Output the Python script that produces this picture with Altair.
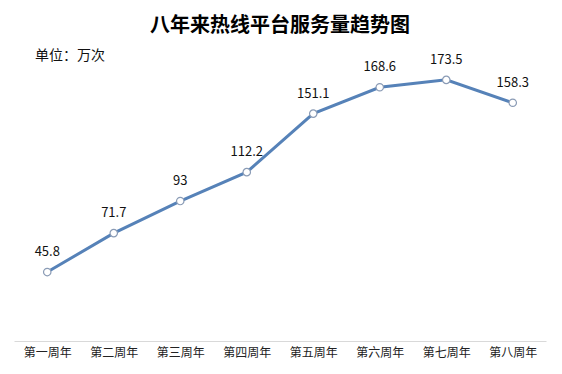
import altair as alt
import pandas as pd

weeks = ["第一周年", "第二周年", "第三周年", "第四周年", "第五周年", "第六周年", "第七周年", "第八周年"]
values = [45.8, 71.7, 93, 112.2, 151.1, 168.6, 173.5, 158.3]
labels = ["45.8", "71.7", "93", "112.2", "151.1", "168.6", "173.5", "158.3"]

df = pd.DataFrame({"week": weeks, "value": values, "label": labels})

FONT = "Noto Sans CJK SC"

x = alt.X("week:N", sort=weeks, title=None,
          scale=alt.Scale(paddingInner=0, paddingOuter=0),
          axis=alt.Axis(labelAngle=0, ticks=False, domainColor="#d9d9d9", domainWidth=1,
                        labelFontSize=12, labelColor="#222222", labelFont=FONT, labelPadding=6,
                        grid=False))
y = alt.Y("value:Q", title=None, scale=alt.Scale(domain=[0, 200]), axis=None)

base = alt.Chart(df).encode(x=x, y=y)

line = base.mark_line(color="#5682b8", strokeWidth=3)
points = base.mark_point(filled=True, fill="white", stroke="#8a9bb5", strokeWidth=1.2, size=55, opacity=1)
text = base.mark_text(dy=-20, fontSize=13, font=FONT, color="#111111").encode(text="label:N")

unit = alt.Chart(pd.DataFrame({"t": ["单位：万次"]})).mark_text(
    align="left", baseline="middle", fontSize=14, font=FONT, color="#111111"
).encode(x=alt.value(21), y=alt.value(16), text="t:N")

chart = alt.layer(line, points, text, unit).properties(
    width=532, height=301,
    title=alt.TitleParams("八年来热线平台服务量趋势图", anchor="middle", fontSize=20,
                          font=FONT, fontWeight="bold", color="#000000", offset=4),
    autosize=alt.AutoSizeParams(type="none"),
    padding={"left": 6, "top": 32, "right": 8, "bottom": 20},
).configure_view(stroke=None)

chart.save("out.html", embed_options={"renderer": "svg", "actions": False})
